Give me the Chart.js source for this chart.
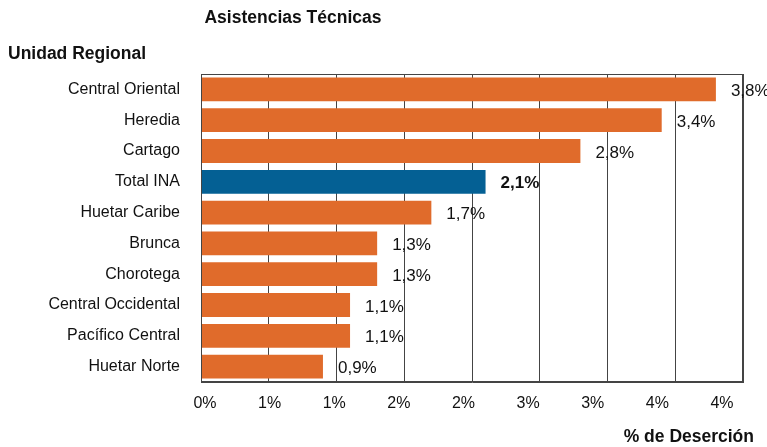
<!DOCTYPE html>
<html>
<head>
<meta charset="utf-8">
<script src="https://cdn.jsdelivr.net/npm/chart.js@4/dist/chart.umd.min.js"></script>
<style>
html,body{margin:0;padding:0;background:#fff;}
#wrap{position:relative;width:767px;height:447px;}
</style>
</head>
<body>
<div id="wrap"><canvas id="c" width="767" height="447"></canvas></div>
<script>
const categories = ["Central Oriental","Heredia","Cartago","Total INA","Huetar Caribe","Brunca","Chorotega","Central Occidental","Pacífico Central","Huetar Norte"];
const values = [0.038,0.034,0.028,0.021,0.017,0.013,0.013,0.011,0.011,0.009];
const valueLabels = ["3,8%","3,4%","2,8%","2,1%","1,7%","1,3%","1,3%","1,1%","1,1%","0,9%"];
const xTickLabels = ["0%","1%","1%","2%","2%","3%","3%","4%","4%"];
const highlight = "Total INA";
const chartTitle = "Asistencias Técnicas";
const yTitle = "Unidad Regional";
const xTitle = "% de Deserción";

const ORANGE = "#E06B2B";
const BLUE = "#046094";
const FONT = "'Liberation Sans', Arial, Helvetica, sans-serif";

const textPlugin = {
  id: 'texts',
  afterDraw(chart) {
    const ctx = chart.ctx;
    const a = chart.chartArea;
    ctx.save();
    // plot border
    ctx.strokeStyle = '#444';
    ctx.lineWidth = 1;
    ctx.strokeRect(Math.round(a.left)+0.5, Math.round(a.top)+0.5, Math.round(a.right-a.left)-1, Math.round(a.bottom-a.top)-1);
    // titles
    ctx.fillStyle = '#111';
    ctx.font = "bold 17.5px " + FONT;
    ctx.textBaseline = 'middle';
    ctx.textAlign = 'center';
    ctx.fillText(chartTitle, 293, 18);
    ctx.textAlign = 'left';
    ctx.fillText(yTitle, 8, 54);
    ctx.textAlign = 'right';
    ctx.fillText(xTitle, 754, 437);
    // x tick labels (slightly compressed spacing, as in the original rendering)
    const xs = chart.scales.x;
    ctx.font = "16px " + FONT;
    ctx.textAlign = 'center';
    ctx.fillStyle = '#111';
    const span = a.right - a.left;
    xs.ticks.forEach((t, i) => {
      const p = xs.getPixelForValue(t.value);
      const px = a.left + 4 + (p - a.left) * ((span - 25) / span);
      ctx.fillText(xTickLabels[i], px, 404);
    });
    // value labels
    const meta = chart.getDatasetMeta(0);
    meta.data.forEach((bar, i) => {
      const bold = categories[i] === highlight;
      ctx.font = (bold ? "bold " : "") + "17px " + FONT;
      ctx.textAlign = 'left';
      ctx.fillStyle = '#111';
      ctx.fillText(valueLabels[i], bar.x + 15, bar.y + 2);
    });
    ctx.restore();
  }
};

new Chart(document.getElementById('c'), {
  type: 'bar',
  data: {
    labels: categories,
    datasets: [{
      data: values,
      backgroundColor: categories.map(c => c === highlight ? BLUE : ORANGE),
      borderWidth: 0,
      barPercentage: 0.86,
      categoryPercentage: 0.9
    }]
  },
  options: {
    indexAxis: 'y',
    responsive: false,
    animation: false,
    layout: { padding: { left: 0, right: 24, top: 74, bottom: 0 } },
    plugins: { legend: { display: false }, tooltip: { enabled: false }, title: { display: false } },
    scales: {
      x: {
        min: 0, max: 0.04,
        ticks: {
          stepSize: 0.005,
          display: false
        },
        grid: { color: '#444', lineWidth: 1, drawTicks: false },
        border: { color: '#444' },
        afterFit: s => { s.height = 65; }
      },
      y: {
        ticks: {
          color: '#111',
          font: { family: FONT, size: 16 },
          padding: 21
        },
        grid: { display: false, drawTicks: false },
        border: { color: '#444' },
        afterFit: s => { s.width = 201; }
      }
    }
  },
  plugins: [textPlugin]
});
</script>
</body>
</html>
